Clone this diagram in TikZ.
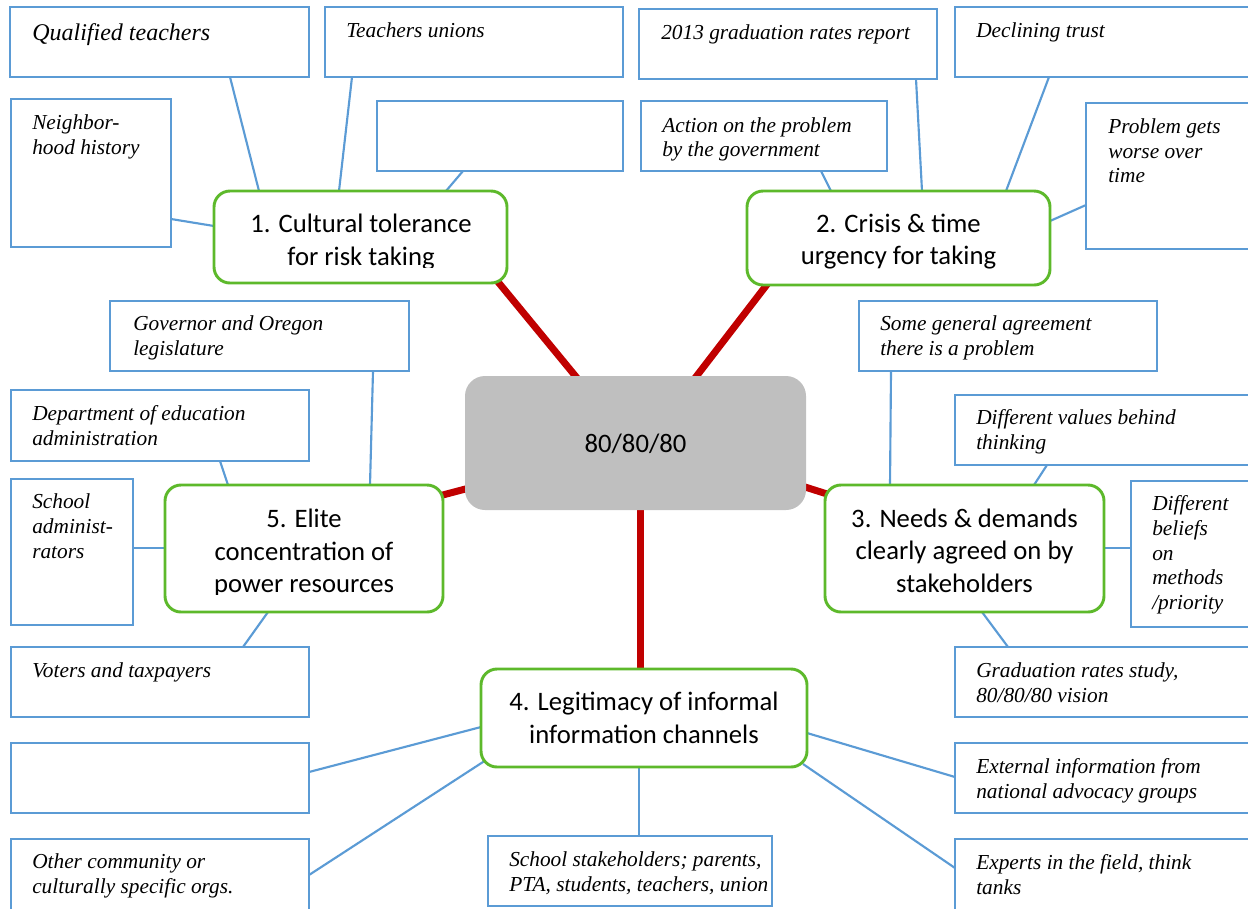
\documentclass[tikz,border=0pt]{standalone}
\usepackage{fontspec}
\setmainfont{Liberation Serif}
\newfontfamily\topicfont{Carlito}
\usetikzlibrary{fit,backgrounds}
\definecolor{itemblue}{HTML}{5B9BD5}
\definecolor{topicgreen}{HTML}{5DB92B}
\definecolor{hubgray}{HTML}{BFBFBF}
\definecolor{linkred}{HTML}{C00000}
\begin{document}
\begin{tikzpicture}[x=0.75pt,y=-0.75pt,
  box/.style={draw=itemblue, line width=2pt, fill=white, inner sep=0pt, outer sep=0pt},
  note/.style={anchor=north west, inner sep=0pt, align=left,
    font=\fontsize{16}{18.5}\selectfont\itshape},
  bignote/.style={note, font=\fontsize{18}{21}\selectfont\itshape},
  topic/.style={draw=topicgreen, line width=2.2pt, fill=white, rounded corners=12pt,
    inner sep=0pt, outer sep=0pt},
  topictext/.style={anchor=center, inner sep=0pt, align=center,
    font=\topicfont\fontsize{20}{24.5}\selectfont},
  hub/.style={fill=hubgray, rounded corners=15pt, inner sep=0pt, outer sep=0pt},
  spoke/.style={draw=linkred, line width=5.25pt},
  twig/.style={draw=itemblue, line width=1.6pt},
]
\useasboundingbox (0,0) rectangle (1248,908);
\clip (0,0) rectangle (1248,908);

% central hub and the five topics
\node[hub, fit={(465,376) (806,510)}] (c) {};
\node[topictext] (ct) at ([shift={(0,1)}]c.center) {80/80/80};
\node[topic, fit={(214,191) (507,283)}] (t1) {};
\node[topic, fit={(747,191) (1050,285)}] (t2) {};
\node[topic, fit={(825,485) (1104,612)}] (t3) {};
\node[topic, fit={(481,669) (807,767)}] (t4) {};
\node[topic, fit={(165,485) (443,612)}] (t5) {};

% topic captions; the text frames of topics 1 and 5 cut off the last line's descenders
\begin{scope}
  \clip ([shift={(0,-2)}]t1.north west) rectangle ([shift={(0,-16)}]t1.south east);
  \node[topictext] (t1t) at ([shift={(0.5,4.7)}]t1.center) {1. Cultural tolerance\\for risk taking};
\end{scope}
\node[topictext] (t2t) at ([shift={(0,3.7)}]t2.center) {2. Crisis \& time\\urgency for taking};
\node[topictext] (t3t) at ([shift={(0,2)}]t3.center) {3. Needs \& demands\\clearly agreed on by\\stakeholders};
\node[topictext] (t4t) at ([shift={(0,0)}]t4.center) {4. Legitimacy of informal\\information channels};
\begin{scope}
  \clip ([shift={(0,-2)}]t5.north west) rectangle ([shift={(0,-18)}]t5.south east);
  \node[topictext] (t5t) at ([shift={(0,4.5)}]t5.center) {5. Elite\\concentration of\\power resources};
\end{scope}

% topic 1 items
\node[box, fit={(10,7) (309,77)}] (q1) {};
\node[bignote] (q1t) at ([shift={(22,16.6)}]q1.north west) {Qualified teachers};
\node[box, fit={(325,7) (623,77)}] (q2) {};
\node[note] (q2t) at ([shift={(21,15.4)}]q2.north west) {Teachers unions};
\node[box, fit={(11,99) (171,247)}] (q3) {};
\node[note] (q3t) at ([shift={(21,15.4)}]q3.north west) {Neighbor-\\hood history};
\node[box, fit={(377,101) (623,171)}] (q4) {};

% topic 2 items
\node[box, fit={(639,9) (937,79)}] (r1) {};
\node[note] (r1t) at ([shift={(22,15.4)}]r1.north west) {2013 graduation rates report};
\node[box, fit={(955,7) (1262,77)}] (r2) {};
\node[note] (r2t) at ([shift={(21,15.4)}]r2.north west) {Declining trust};
\node[box, fit={(641,101) (887,171)}] (r3) {};
\node[note] (r3t) at ([shift={(21,16)}]r3.north west) {Action on the problem\\by the government};
\node[box, fit={(1086,103) (1262,249)}] (r4) {};
\node[note] (r4t) at ([shift={(22,15.4)}]r4.north west) {Problem gets\\worse over\\time};

% topic 5 items
\node[box, fit={(110,301) (409,371)}] (e1) {};
\node[note] (e1t) at ([shift={(23,14.6)}]e1.north west) {Governor and Oregon\\legislature};
\node[box, fit={(11,390) (309,461)}] (e2) {};
\node[note] (e2t) at ([shift={(21,15.4)}]e2.north west) {Department of education\\administration};
\node[box, fit={(11,479) (133,625)}] (e3) {};
\node[note] (e3t) at ([shift={(21,14.6)}]e3.north west) {School\\administ-\\rators};
\node[box, fit={(11,647) (309,717)}] (e4) {};
\node[note] (e4t) at ([shift={(21,15.4)}]e4.north west) {Voters and taxpayers};

% topic 3 items
\node[box, fit={(859,301) (1157,371)}] (n1) {};
\node[note] (n1t) at ([shift={(21,14.6)}]n1.north west) {Some general agreement\\there is a problem};
\node[box, fit={(955,395) (1262,465)}] (n2) {};
\node[note] (n2t) at ([shift={(21,14.6)}]n2.north west) {Different values behind\\thinking};
\node[box, fit={(1131,481) (1262,627)}] (n3) {};
\node[note] (n3t) at ([shift={(21,14.6)}]n3.north west) {Different\\beliefs\\on\\methods\\/priority};
\node[box, fit={(955,647) (1262,717)}] (n4) {};
\node[note] (n4t) at ([shift={(21,15.4)}]n4.north west) {Graduation rates study,\\80/80/80 vision};

% topic 4 items
\node[box, fit={(11,743) (309,813)}] (i1) {};
\node[box, fit={(11,839) (309,925)}] (i2) {};
\node[note] (i2t) at ([shift={(21,14.6)}]i2.north west) {Other community or\\culturally specific orgs.};
\node[box, fit={(488,836) (772,906)}] (i3) {};
\node[note] (i3t) at ([shift={(21,15.4)}]i3.north west) {School stakeholders; parents,\\PTA, students, teachers, union};
\node[box, fit={(955,743) (1262,813)}] (i4) {};
\node[note] (i4t) at ([shift={(21,15.4)}]i4.north west) {External information from\\national advocacy groups};
\node[box, fit={(955,839) (1262,925)}] (i5) {};
\node[note] (i5t) at ([shift={(21,15.4)}]i5.north west) {Experts in the field, think\\tanks};

\begin{scope}[on background layer]
  % thick spokes from the hub
  \draw[spoke] ([shift={(-27,-23)}]t1.south east) -- ([shift={(-44.5,19)}]c.north);
  \draw[spoke] ([shift={(36.5,-22)}]t2.south west) -- ([shift={(46.5,19)}]c.north);
  \draw[spoke] ([shift={(-23,-47.5)}]t5.east) -- ([shift={(25,39.5)}]c.west);
  \draw[spoke] ([shift={(-21,37.6)}]c.east) -- ([shift={(25,-47.2)}]t3.west);
  \draw[spoke] ([shift={(4.5,-10)}]c.south) -- ([shift={(-4,10)}]t4.north);

  % thin links from items to topics
  \draw[twig] ([shift={(220,0)}]q1.south west) -- ([shift={(45,0)}]t1.north west);
  \draw[twig] ([shift={(27,0)}]q2.south west) -- ([shift={(125,0)}]t1.north west);
  \draw[twig] ([shift={(0,120)}]q3.north east) -- ([shift={(0,35)}]t1.north west);
  \draw[twig] ([shift={(86,0)}]q4.south west) -- ([shift={(232,0)}]t1.north west);

  \draw[twig] ([shift={(277,0)}]r1.south west) -- ([shift={(175,0)}]t2.north west);
  \draw[twig] ([shift={(94,0)}]r2.south west) -- ([shift={(259,0)}]t2.north west);
  \draw[twig] ([shift={(180,0)}]r3.south west) -- ([shift={(84,0)}]t2.north west);
  \draw[twig] ([shift={(0,102)}]r4.north west) -- ([shift={(0,30)}]t2.north east);

  \draw[twig] ([shift={(263,0)}]e1.south west) -- ([shift={(205,0)}]t5.north west);
  \draw[twig] ([shift={(209,0)}]e2.south west) -- ([shift={(63,0)}]t5.north west);
  \draw[twig] ([shift={(0,69)}]e3.north east) -- ([shift={(0,63)}]t5.north west);
  \draw[twig] ([shift={(232,0)}]e4.north west) -- ([shift={(103,0)}]t5.south west);

  \draw[twig] ([shift={(32,0)}]n1.south west) -- ([shift={(65,0)}]t3.north west);
  \draw[twig] ([shift={(92,0)}]n2.south west) -- ([shift={(209,0)}]t3.north west);
  \draw[twig] ([shift={(0,67)}]n3.north west) -- ([shift={(0,63)}]t3.north east);
  \draw[twig] ([shift={(53,0)}]n4.north west) -- ([shift={(157,0)}]t3.south west);

  \draw[twig] ([shift={(0,29)}]i1.north east) -- ([shift={(0,58)}]t4.north west);
  \draw[twig] ([shift={(0,36)}]i2.north east) -- ([shift={(3.5,92)}]t4.north west);
  \draw[twig] ([shift={(151,0)}]i3.north west) -- ([shift={(158,0)}]t4.south west);
  \draw[twig] ([shift={(0,34)}]i4.north west) -- ([shift={(0,64)}]t4.north east);
  \draw[twig] ([shift={(0,29)}]i5.north west) -- ([shift={(-4,95)}]t4.north east);
\end{scope}
\end{tikzpicture}
\end{document}
